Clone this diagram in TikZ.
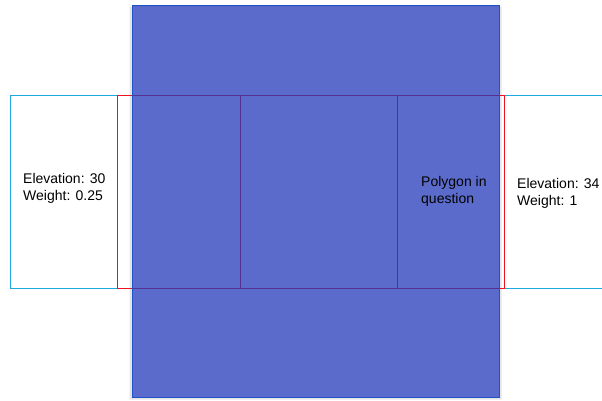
\documentclass[tikz,border=0pt]{standalone}
\usepackage{fontspec}
\setmainfont{Liberation Sans}
\usetikzlibrary{positioning}
\definecolor{PolyBlue}{RGB}{36,58,186}
\definecolor{PolyEdge}{RGB}{32,82,200}
\definecolor{CellRed}{RGB}{235,20,30}
\definecolor{NbrCyan}{RGB}{30,170,220}

\begin{document}
\begin{tikzpicture}[x=1pt,y=-1pt,
  nbr/.style={draw=NbrCyan,line width=1pt,fill=white},
  cell/.style={draw=CellRed,line width=1pt},
  poly/.style={fill=PolyBlue,fill opacity=0.75,draw=PolyEdge,line width=1pt},
  lbl/.style={font=\fontsize{14}{17}\selectfont,align=left,
              inner sep=0pt,anchor=base west},
]
\useasboundingbox (0,0) rectangle (602,400);
% neighbours on both sides
\draw[nbr] (10,95.5) rectangle (117.5,288);
\draw[nbr] (602,95.5) -- (504,95.5) -- (504,288) -- (602,288);
% shadow ring round the polygon
\fill[black!10,even odd rule] (129.5,6.5) rectangle (501.5,399.5)
  (132,5) rectangle (499,397);
% cells underneath
\draw[cell] (117.5,95.5) rectangle (240,288);
\draw[cell] (240,95.5) rectangle (397,288);
\draw[cell] (397,95.5) rectangle (504,288);
% the polygon
\draw[poly] (132,5) rectangle (499,397);
\node[lbl] (elevA) at (23,200) {Elevation: 30\\Weight: 0.25};
\node[lbl] (poly) at (421,203) {Polygon in\\question};
\node[lbl] (elevB) at (517,205) {Elevation: 34\\Weight: 1};
\end{tikzpicture}
\end{document}
